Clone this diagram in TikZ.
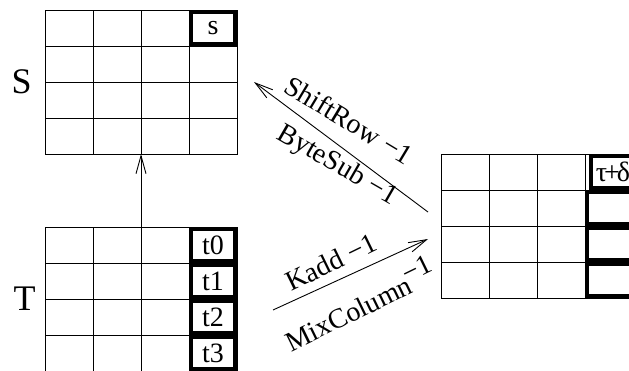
\documentclass[tikz,border=0pt]{standalone}
\usepackage{fontspec}
\setmainfont{Liberation Serif}
\usetikzlibrary{positioning,arrows.meta}

\begin{document}
\begin{tikzpicture}[x=1pt,y=-1pt,line width=0.9pt,font=\fontsize{28}{32}\selectfont,
  >={Straight Barb[length=18pt,width=10pt]},
  cell/.style={draw,minimum width=48pt,minimum height=36pt,inner sep=0pt,outer sep=0pt},
  hot/.style={draw,line width=4pt,minimum width=44pt,minimum height=32pt,inner sep=0pt,outer sep=0pt},
  big/.style={font=\fontsize{36}{40}\selectfont,inner sep=0pt},
  op/.style={font=\fontsize{28}{32}\selectfont,inner sep=0pt}]
  \useasboundingbox (0,0) rectangle (629,370);
  % the three 4x4 grids
  \foreach \r in {1,...,4}
    \foreach \c in {1,...,4} {
      \node[cell] (S-\r-\c) at (21+48*\c,-8+36*\r) {};
      \node[cell] (T-\r-\c) at (21+48*\c,209+36*\r) {};
      \node[cell] (R-\r-\c) at (417+48*\c,136+36*\r) {};
    }
  % thick boxes in the last column
  \node[hot] (s) at (S-1-4) {s};
  \foreach \r/\t in {1/t0,2/t1,3/t2,4/t3}
    \node[hot] (t-\r) at (T-\r-4) {\t};
  \node[hot] (d-1) at ([xshift=4pt]R-1-4) {τ\kern-3pt+\kern-3ptδ};
  \foreach \r in {2,3,4}
    \node[hot] (d-\r) at (R-\r-4) {};
  \node[big,left=13pt] (Slab) at (S-2-1.south west) {S};
  \node[big,left=9pt] (Tlab) at (T-2-1.south west) {T};
  % inverse steps
  \coordinate (up) at ([xshift=17pt]S-2-4.south east);
  \coordinate (in1) at ([xshift=-13pt,yshift=14pt]R-2-1.south west);
  \coordinate (in2) at ([xshift=-13pt,yshift=-13pt]R-2-1.south west);
  \coordinate (out) at ([xshift=36pt,yshift=-11pt]T-3-4.north east);
  \draw[->] (T-1-2.north east) -- (S-4-2.south east);
  \draw[<-] (up) -- (in1);
  \draw[->] (out) -- (in2);
  \node[op,rotate=-31] (sr) at (349,120) {ShiftRow −1};
  \node[op,rotate=-30] (bs) at (337,166) {ByteSub −1};
  \node[op,rotate=26] (ka) at (331,262) {Kadd −1};
  \node[op,rotate=26] (mc) at (359,303) {MixColumn\kern-2pt\raisebox{.4em}{−1}};
\end{tikzpicture}
\end{document}
